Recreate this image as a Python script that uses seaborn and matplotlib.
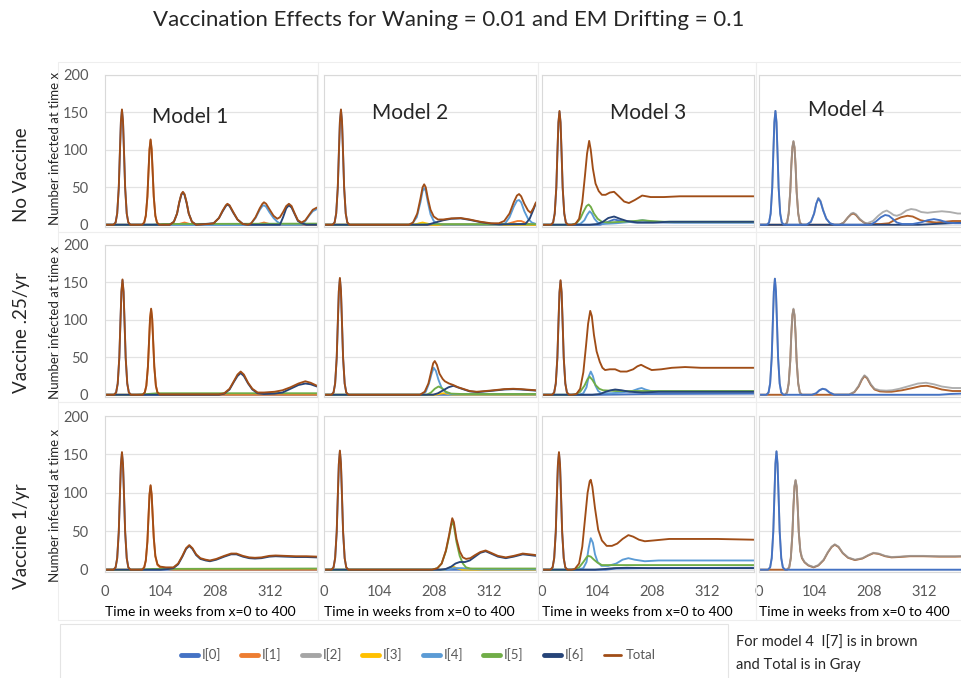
import pandas as pd
import matplotlib
matplotlib.use("Agg")
import matplotlib.pyplot as plt
from matplotlib.lines import Line2D
from matplotlib.patches import Rectangle
import seaborn as sns

# ---------------------------------------------------------------------
# DATA  (week, number infected)
# ---------------------------------------------------------------------
# --- No vaccine ---
m1_nv_total = [(0, 0), (16, 0), (20, 3), (23, 15), (26, 50), (28, 95), (30, 138), (32, 154), (34, 138), (36, 95), (38, 50), (41, 15), (44, 3), (48, 0),
               (70, 0), (74, 3), (77, 12), (80, 38), (82, 70), (84, 101), (86, 114), (88, 101), (90, 70), (92, 38), (95, 12), (98, 3), (102, 0),
               (122, 0), (130, 4), (136, 15), (140, 30), (144, 41), (147, 44), (150, 41), (154, 30), (158, 15), (164, 4), (172, 0), (195, 1),
               (205, 2), (215, 9), (222, 19), (228, 26), (231, 28), (235, 26), (242, 17), (250, 7), (260, 1), (270, 0),
               (276, 2), (284, 10), (292, 22), (297, 28), (300, 30), (304, 28), (310, 21), (318, 12), (325, 8),
               (330, 10), (336, 17), (342, 25), (347, 28), (352, 25), (358, 15), (364, 6), (371, 3), (378, 6), (385, 13), (392, 20), (400, 23)]
m1_nv_i0 = [(0, 0), (16, 0), (20, 3), (23, 15), (26, 49), (28, 94), (30, 137), (32, 153), (34, 137), (36, 94), (38, 49), (41, 15), (44, 3), (48, 0), (400, 0)]
m1_nv_i1 = [(0, 0), (70, 0), (74, 3), (77, 12), (80, 37), (82, 69), (84, 100), (86, 113), (88, 100), (90, 69), (92, 37), (95, 12), (98, 3), (102, 0),
            (140, 1), (150, 3), (160, 1), (290, 1), (300, 3), (310, 1), (400, 0)]
m1_nv_i4 = [(0, 0), (270, 0), (276, 2), (284, 9), (292, 20), (297, 25), (300, 26), (304, 24), (310, 17), (318, 9), (325, 4), (332, 1), (340, 0),
            (371, 0), (378, 5), (385, 12), (392, 18), (400, 21)]
m1_nv_i5 = [(0, 0), (90, 0), (110, 1), (400, 1.5)]
m1_nv_i6 = [(0, 0), (122, 0), (130, 4), (136, 15), (140, 29), (144, 40), (147, 43), (150, 40), (154, 29), (158, 15), (164, 4), (172, 0),
            (205, 2), (215, 9), (222, 18), (228, 25), (231, 27), (235, 25), (242, 16), (250, 7), (260, 1), (270, 0), (330, 0),
            (336, 10), (342, 22), (347, 26), (352, 23), (358, 14), (364, 5), (371, 2), (380, 0), (400, 0)]

m2_nv_total = [(0, 0), (16, 0), (20, 3), (23, 15), (26, 50), (28, 95), (30, 138), (32, 154), (34, 138), (36, 95), (38, 50), (41, 15), (44, 3), (48, 0),
               (160, 0), (168, 3), (176, 15), (182, 35), (186, 50), (189, 54), (192, 50), (196, 35), (201, 20), (207, 11), (215, 7), (225, 7),
               (240, 8.5), (258, 9), (275, 7), (295, 4), (315, 2), (330, 2), (340, 5), (350, 15), (358, 30), (364, 39), (368, 41), (372, 38),
               (378, 28), (385, 19), (390, 16), (395, 22), (400, 30)]
m2_nv_i0 = [(0, 0), (16, 0), (20, 3), (23, 15), (26, 49), (28, 94), (30, 137), (32, 153), (34, 137), (36, 94), (38, 49), (41, 15), (44, 3), (48, 0), (400, 0)]
m2_nv_i1 = [(0, 0), (340, 0), (355, 3), (365, 5), (372, 5), (382, 2), (392, 0), (400, 0)]
m2_nv_i3 = [(0, 0), (170, 0), (180, 2), (186, 3), (192, 2), (205, 0), (400, 0)]
m2_nv_i4 = [(0, 0), (165, 0), (175, 10), (182, 30), (186, 45), (189, 49), (192, 45), (196, 30), (201, 14), (207, 5), (215, 1), (225, 0),
            (335, 0), (342, 2), (350, 10), (358, 24), (364, 32), (368, 33), (372, 30), (378, 18), (385, 8), (392, 3), (400, 1)]
m2_nv_i5 = [(0, 0), (160, 0), (200, 0.8), (400, 0.8)]
m2_nv_i6 = [(0, 0), (195, 0), (210, 3), (225, 6), (240, 8), (258, 8.5), (275, 6.5), (295, 3.5), (315, 1.5), (330, 0.5), (380, 1),
            (388, 8), (395, 20), (400, 29)]

m3_nv_total = [(0, 0), (17, 0), (21, 3), (24, 15), (27, 50), (29, 95), (31, 137), (33, 152), (35, 137), (37, 95), (39, 50), (42, 15), (45, 3), (49, 0),
               (56, 0), (63, 1), (70, 8), (76, 30), (81, 65), (85, 95), (89, 112), (92, 100), (96, 75), (101, 55), (107, 45), (113, 40),
               (120, 40), (128, 43), (136, 44), (145, 38), (155, 31), (164, 29), (175, 33), (189, 39), (205, 37), (230, 37), (260, 38),
               (300, 38), (350, 38), (400, 38)]
m3_nv_i0 = [(0, 0), (17, 0), (21, 3), (24, 15), (27, 49), (29, 94), (31, 136), (33, 151), (35, 136), (37, 94), (39, 49), (42, 15), (45, 3), (49, 0),
            (110, 0), (125, 4), (136, 7), (150, 5), (175, 3), (400, 3)]
m3_nv_i4 = [(0, 0), (62, 0), (72, 1), (80, 6), (85, 13), (90, 18), (94, 15), (99, 8), (105, 3), (115, 1), (140, 2), (170, 4), (189, 6),
            (210, 4), (250, 3), (400, 3)]
m3_nv_i5 = [(0, 0), (56, 0), (65, 2), (72, 8), (78, 17), (84, 25), (88, 27), (92, 24), (98, 15), (105, 8), (113, 4), (125, 3), (150, 4),
            (175, 5), (190, 6), (205, 5), (230, 4), (300, 4), (400, 4)]
m3_nv_i6 = [(0, 0), (90, 0), (105, 1), (115, 4), (125, 9), (136, 11), (147, 8), (160, 5), (180, 3), (210, 3), (240, 4), (270, 4), (400, 4)]

m4_nv_total = [(0, 0), (15, 0), (19, 3), (22, 15), (25, 50), (27, 95), (29, 137), (31, 152), (33, 137), (35, 95), (37, 50), (40, 15), (43, 3), (47, 0),
               (49, 0), (53, 3), (56, 15), (59, 45), (61, 80), (63, 104), (65, 112), (67, 104), (69, 80), (71, 45), (74, 15), (77, 3), (81, 0),
               (90, 0), (98, 4), (104, 15), (108, 28), (112, 36), (116, 32), (121, 20), (127, 8), (134, 2), (142, 0),
               (152, 0), (160, 3), (168, 10), (174, 15), (178, 16), (183, 14), (190, 8), (198, 3), (204, 2), (215, 5), (225, 12),
               (234, 17), (241, 19), (248, 16), (254, 13), (260, 12), (268, 14), (278, 19), (287, 21), (296, 20), (306, 17), (318, 16),
               (330, 17), (345, 18), (360, 17), (375, 15), (390, 15), (400, 15)]
m4_nv_i0 = [(0, 0), (15, 0), (19, 3), (22, 15), (25, 50), (27, 95), (29, 137), (31, 152), (33, 137), (35, 95), (37, 50), (40, 15), (43, 3), (47, 0),
            (90, 0), (98, 4), (104, 15), (108, 28), (112, 35), (116, 31), (121, 19), (127, 8), (134, 2), (142, 0), (210, 0), (220, 4),
            (230, 10), (238, 13), (245, 12), (252, 8), (260, 3), (270, 1), (290, 1), (305, 3), (318, 6), (330, 7.5), (342, 6), (355, 3),
            (370, 2), (400, 2)]
m4_nv_i6 = [(0, 0), (300, 0), (330, 1), (360, 2), (400, 3)]
m4_nv_i7 = [(0, 0), (49, 0), (53, 3), (56, 15), (59, 44), (61, 79), (63, 103), (65, 111), (67, 103), (69, 79), (71, 44), (74, 15), (77, 3), (81, 0),
            (152, 0), (160, 3), (168, 10), (174, 14), (178, 15), (183, 13), (190, 7), (198, 3), (204, 1), (230, 1), (245, 2), (255, 6),
            (268, 10), (280, 12), (290, 11), (305, 6), (320, 4), (335, 3), (350, 4), (365, 5), (385, 5), (400, 5)]

# --- Vaccine .25/yr ---
m1_v25_total = [(0, 0), (17, 0), (21, 3), (24, 15), (27, 50), (29, 95), (31, 138), (33, 154), (35, 138), (37, 95), (39, 50), (42, 15), (45, 3), (49, 0),
                (71, 0), (75, 3), (78, 12), (81, 38), (83, 70), (85, 102), (87, 115), (89, 102), (91, 70), (93, 38), (96, 12), (99, 3), (103, 0.5),
                (215, 0.5), (225, 2), (235, 8), (243, 18), (250, 27), (256, 31), (262, 27), (270, 16), (278, 8), (288, 3), (300, 3), (320, 4),
                (335, 6), (350, 10), (365, 15), (378, 18), (388, 16), (400, 12)]
m1_v25_i0 = [(0, 0), (17, 0), (21, 3), (24, 15), (27, 49), (29, 94), (31, 137), (33, 153), (35, 137), (37, 94), (39, 49), (42, 15), (45, 3), (49, 0), (400, 0)]
m1_v25_i1 = [(0, 0), (71, 0), (75, 3), (78, 12), (81, 37), (83, 69), (85, 101), (87, 114), (89, 101), (91, 69), (93, 37), (96, 12), (99, 3), (103, 0), (400, 0)]
m1_v25_i5 = [(0, 0), (60, 0), (80, 1), (100, 2), (400, 2)]
m1_v25_i6 = [(0, 0), (215, 0), (225, 1.5), (235, 7), (243, 17), (250, 25), (256, 29), (262, 25), (270, 15), (278, 7), (288, 2), (300, 1),
             (320, 1.5), (335, 3), (350, 8), (365, 13), (378, 15), (388, 14), (400, 11)]

m2_v25_total = [(0, 0), (14, 0), (18, 3), (21, 15), (24, 50), (26, 95), (28, 139), (30, 156), (32, 139), (34, 95), (36, 50), (39, 15), (42, 3), (46, 0),
                (181, 0), (190, 4), (197, 15), (202, 30), (206, 42), (209, 45), (213, 40), (218, 28), (224, 21), (228, 18), (236, 15),
                (244, 13), (253, 10), (262, 8), (275, 5), (288, 4), (305, 5), (320, 6), (340, 7.5), (357, 8), (372, 7.5), (390, 6.5), (400, 6)]
m2_v25_i0 = [(0, 0), (14, 0), (18, 3), (21, 15), (24, 49), (26, 94), (28, 138), (30, 155), (32, 138), (34, 94), (36, 49), (39, 15), (42, 3), (46, 0), (400, 0)]
m2_v25_i3 = [(0, 0), (210, 0), (220, 1.5), (226, 2), (234, 1), (242, 0), (400, 0)]
m2_v25_i4 = [(0, 0), (184, 0), (192, 4), (198, 15), (203, 28), (207, 36), (211, 32), (216, 20), (222, 9), (230, 3), (240, 0.5), (400, 0.5)]
m2_v25_i5 = [(0, 0), (194, 0), (202, 3), (209, 8), (216, 11), (222, 9), (230, 4), (240, 1.5), (260, 1), (400, 1)]
m2_v25_i6 = [(0, 0), (206, 0), (215, 2), (225, 6), (235, 10), (244, 12), (252, 10), (262, 7.5), (275, 4.5), (290, 3.5), (305, 4.5),
             (320, 5.5), (340, 7), (357, 7.5), (372, 7), (390, 6), (400, 5.5)]

m3_v25_total = [(0, 0), (19, 0), (23, 3), (26, 15), (29, 50), (31, 95), (33, 137), (35, 153), (37, 137), (39, 95), (41, 50), (44, 15), (47, 3), (51, 0),
                (56, 0), (65, 1), (72, 8), (78, 30), (83, 65), (87, 95), (91, 112), (94, 105), (98, 80), (103, 58), (109, 44), (114, 36),
                (119, 33), (128, 34), (138, 34), (148, 31), (160, 31), (172, 34), (180, 38), (187, 40), (195, 37), (207, 33), (225, 34),
                (245, 36), (270, 37), (300, 36), (350, 36), (400, 36)]
m3_v25_i0 = [(0, 0), (19, 0), (23, 3), (26, 15), (29, 49), (31, 94), (33, 136), (35, 152), (37, 136), (39, 94), (41, 49), (44, 15), (47, 3), (51, 0),
             (110, 0), (200, 1), (400, 1.5)]
m3_v25_i4 = [(0, 0), (70, 0), (78, 2), (84, 10), (88, 24), (92, 31), (96, 25), (101, 12), (106, 5), (112, 2), (130, 2), (150, 3), (170, 5),
             (182, 8), (188, 9), (195, 7), (210, 4), (250, 4), (400, 4)]
m3_v25_i5 = [(0, 0), (62, 0), (72, 4), (80, 12), (86, 21), (90, 24), (95, 20), (101, 13), (108, 8), (115, 6), (140, 5), (200, 5), (300, 5), (400, 5)]
m3_v25_i6 = [(0, 0), (95, 0), (110, 1), (120, 4), (130, 6), (138, 7), (150, 6), (165, 4), (190, 3), (220, 4), (260, 4), (400, 4)]

m4_v25_total = [(0, 0), (14, 0), (18, 3), (21, 15), (24, 50), (26, 95), (28, 138), (30, 155), (32, 138), (34, 95), (36, 50), (39, 15), (42, 3), (46, 0),
                (49, 0), (53, 3), (56, 15), (59, 46), (61, 82), (63, 107), (65, 115), (67, 107), (69, 82), (71, 46), (74, 15), (77, 3), (81, 0),
                (100, 0), (108, 2), (114, 6), (120, 8), (126, 7), (133, 3), (142, 0.5), (170, 0.5), (180, 4), (188, 12), (194, 21), (199, 26),
                (204, 23), (211, 14), (218, 8), (228, 6), (240, 5.5), (251, 6), (265, 8), (285, 12), (300, 15), (315, 16), (330, 14),
                (345, 11), (365, 9), (385, 9), (400, 9)]
m4_v25_i0 = [(0, 0), (14, 0), (18, 3), (21, 15), (24, 50), (26, 95), (28, 138), (30, 155), (32, 138), (34, 95), (36, 50), (39, 15), (42, 3), (46, 0),
             (100, 0), (108, 2), (114, 6), (120, 8), (126, 7), (133, 3), (142, 0), (340, 0), (360, 1), (400, 2)]
m4_v25_i7 = [(0, 0), (49, 0), (53, 3), (56, 15), (59, 45), (61, 81), (63, 106), (65, 114), (67, 106), (69, 81), (71, 45), (74, 15), (77, 3), (81, 0),
             (170, 0), (180, 3.5), (188, 11), (194, 20), (199, 25), (204, 22), (211, 13), (218, 7), (228, 4.5), (240, 4), (250, 4), (270, 6),
             (290, 9), (305, 11.5), (317, 12), (330, 10), (345, 7), (365, 5), (400, 5)]

# --- Vaccine 1/yr ---
m1_v1_total = [(0, 0), (16, 0), (20, 3), (23, 15), (26, 50), (28, 95), (30, 137), (32, 153), (34, 137), (36, 95), (38, 50), (41, 15), (44, 3), (48, 0),
               (70, 0), (74, 3), (77, 12), (80, 37), (82, 68), (84, 98), (86, 110), (88, 98), (90, 70), (92, 42), (95, 18), (99, 7), (104, 4),
               (115, 3), (129, 3), (138, 8), (146, 18), (153, 28), (159, 32), (165, 28), (172, 20), (180, 15), (190, 13), (198, 12),
               (210, 14), (225, 18), (238, 21), (248, 21), (260, 18), (272, 16), (283, 15.5), (295, 16), (310, 18), (322, 18.5),
               (340, 18), (360, 17.5), (380, 17.5), (400, 17)]
m1_v1_i0 = [(0, 0), (16, 0), (20, 3), (23, 15), (26, 49), (28, 94), (30, 136), (32, 152), (34, 136), (36, 94), (38, 49), (41, 15), (44, 3), (48, 0), (400, 0)]
m1_v1_i1 = [(0, 0), (70, 0), (74, 3), (77, 12), (80, 36), (82, 67), (84, 97), (86, 109), (88, 97), (90, 69), (92, 41), (95, 17), (99, 6), (104, 3),
            (115, 1), (129, 0), (400, 0)]
m1_v1_i5 = [(0, 0), (60, 0), (90, 1), (400, 1.5)]
m1_v1_i6 = [(0, 0), (105, 0), (120, 1), (129, 2), (138, 7), (146, 17), (153, 27), (159, 31), (165, 27), (172, 19), (180, 14), (190, 12),
            (198, 11), (210, 13), (225, 17), (238, 20), (248, 20), (260, 17), (272, 15), (283, 14.5), (295, 15), (310, 17), (322, 17.5),
            (340, 17), (360, 16.5), (380, 16.5), (400, 16)]

m2_v1_total = [(0, 0), (14, 0), (18, 3), (21, 15), (24, 50), (26, 95), (28, 138), (30, 155), (32, 138), (34, 95), (36, 50), (39, 15), (42, 3), (46, 0),
               (204, 0), (214, 2), (222, 8), (230, 25), (236, 45), (240, 60), (242, 67), (245, 62), (250, 40), (256, 24), (262, 16), (268, 14),
               (276, 15), (285, 19), (295, 23), (305, 25), (315, 22), (328, 18), (343, 16), (358, 18), (375, 21), (388, 20), (400, 19)]
m2_v1_i0 = [(0, 0), (14, 0), (18, 3), (21, 15), (24, 49), (26, 94), (28, 137), (30, 154), (32, 137), (34, 94), (36, 49), (39, 15), (42, 3), (46, 0), (400, 0)]
m2_v1_i3 = [(0, 0), (228, 0), (238, 3), (244, 4), (250, 2), (260, 0), (400, 0)]
m2_v1_i4 = [(0, 0), (230, 0), (245, 2), (260, 2), (280, 1), (300, 0.5), (400, 0.5)]
m2_v1_i5 = [(0, 0), (204, 0), (214, 2), (222, 8), (230, 24), (236, 43), (240, 58), (242, 62), (245, 57), (250, 36), (256, 18), (262, 8),
            (268, 3), (276, 1.5), (400, 1.5)]
m2_v1_i6 = [(0, 0), (220, 0), (230, 1), (240, 4), (248, 8), (256, 10), (266, 10), (275, 12), (285, 17), (295, 22), (305, 24), (315, 21),
            (328, 17), (343, 15), (358, 17), (375, 20), (388, 19), (400, 18)]

m3_v1_total = [(0, 0), (16, 0), (20, 3), (23, 15), (26, 50), (28, 95), (30, 137), (32, 153), (34, 137), (36, 95), (38, 50), (41, 15), (44, 3), (48, 0),
               (56, 0), (62, 1), (70, 8), (76, 30), (81, 65), (86, 100), (90, 115), (92, 117), (95, 108), (100, 80), (106, 52), (113, 38),
               (122, 31), (132, 31), (142, 34), (152, 40), (163, 45), (172, 43), (183, 39), (194, 37), (210, 38), (240, 40), (280, 40),
               (330, 40), (400, 39)]
m3_v1_i0 = [(0, 0), (16, 0), (20, 3), (23, 15), (26, 49), (28, 94), (30, 136), (32, 152), (34, 136), (36, 94), (38, 49), (41, 15), (44, 3), (48, 0),
            (120, 0), (140, 1.5), (200, 2), (400, 2.5)]
m3_v1_i4 = [(0, 0), (68, 0), (78, 2), (84, 10), (88, 28), (92, 41), (96, 35), (100, 20), (105, 10), (112, 5), (125, 5), (140, 8), (152, 13),
            (163, 15), (175, 13), (194, 11), (220, 12), (260, 12), (400, 12)]
m3_v1_i5 = [(0, 0), (60, 0), (70, 3), (78, 10), (84, 16), (87, 18), (92, 17), (98, 13), (105, 9), (113, 6), (130, 6), (200, 6), (400, 6)]
m3_v1_i6 = [(0, 0), (100, 0), (120, 1), (135, 2), (160, 2.5), (200, 2), (400, 2)]

m4_v1_total = [(0, 0), (17, 0), (21, 3), (24, 15), (27, 50), (29, 95), (31, 138), (33, 154), (35, 138), (37, 95), (39, 50), (42, 15), (45, 3), (49, 0),
               (53, 0), (57, 3), (60, 15), (63, 47), (65, 83), (67, 109), (69, 117), (71, 109), (73, 83), (75, 50), (78, 25), (81, 16), (86, 10),
               (93, 6), (103, 3.5), (112, 6), (122, 13), (130, 23), (137, 30), (143, 33), (150, 30), (158, 22), (168, 16), (181, 13),
               (195, 15), (206, 19), (216, 22), (226, 21), (238, 18), (250, 16.5), (265, 17), (285, 18), (310, 18), (340, 17.5),
               (370, 17.5), (400, 18)]
m4_v1_i0 = [(0, 0), (17, 0), (21, 3), (24, 15), (27, 50), (29, 95), (31, 138), (33, 154), (35, 138), (37, 95), (39, 50), (42, 15), (45, 3), (49, 0),
            (400, 0)]
m4_v1_i7 = [(0, 0), (53, 0), (57, 3), (60, 15), (63, 46), (65, 82), (67, 108), (69, 116), (71, 108), (73, 82), (75, 49), (78, 24), (81, 15),
            (86, 9.5), (93, 5.5), (103, 3), (112, 5.5), (122, 12.5), (130, 22.5), (137, 29.5), (143, 32.5), (150, 29.5), (158, 21.5),
            (168, 15.5), (181, 12.5), (195, 14.5), (206, 18.5), (216, 21.5), (226, 20.5), (238, 17.5), (250, 16), (265, 16.5),
            (285, 17.5), (310, 17.5), (340, 17), (370, 17), (400, 17.5)]

model_titles = ["Model 1", "Model 2", "Model 3", "Model 4"]
row_titles = ["No Vaccine", "Vaccine .25/yr", "Vaccine 1/yr"]
series_names = ["I[0]", "I[1]", "I[2]", "I[3]", "I[4]", "I[5]", "I[6]", "Total"]
week_ticks = [0, 104, 208, 312]
count_ticks = [0, 50, 100, 150, 200]

# ---------------------------------------------------------------------
# STYLE
# ---------------------------------------------------------------------
COLORS = {"I[0]": "#4472C4", "I[1]": "#ED7D31", "I[2]": "#A5A5A5", "I[3]": "#FFC000",
          "I[4]": "#5B9BD5", "I[5]": "#70AD47", "I[6]": "#264478", "Total": "#A04D17"}
COLORS_M4 = {"Total": "#999999", "I[7]": "#B0602A", "I[0]": "#4472C4", "I[6]": "#264478"}

PANELS = [
    [{"I[0]": m1_nv_i0, "I[1]": m1_nv_i1, "I[4]": m1_nv_i4, "I[5]": m1_nv_i5, "I[6]": m1_nv_i6, "Total": m1_nv_total},
     {"I[0]": m2_nv_i0, "I[1]": m2_nv_i1, "I[3]": m2_nv_i3, "I[4]": m2_nv_i4, "I[5]": m2_nv_i5, "I[6]": m2_nv_i6, "Total": m2_nv_total},
     {"I[0]": m3_nv_i0, "I[4]": m3_nv_i4, "I[5]": m3_nv_i5, "I[6]": m3_nv_i6, "Total": m3_nv_total},
     {"I[7]": m4_nv_i7, "Total": m4_nv_total, "I[6]": m4_nv_i6, "I[0]": m4_nv_i0}],
    [{"I[0]": m1_v25_i0, "I[1]": m1_v25_i1, "I[5]": m1_v25_i5, "I[6]": m1_v25_i6, "Total": m1_v25_total},
     {"I[0]": m2_v25_i0, "I[3]": m2_v25_i3, "I[4]": m2_v25_i4, "I[5]": m2_v25_i5, "I[6]": m2_v25_i6, "Total": m2_v25_total},
     {"I[0]": m3_v25_i0, "I[4]": m3_v25_i4, "I[5]": m3_v25_i5, "I[6]": m3_v25_i6, "Total": m3_v25_total},
     {"I[7]": m4_v25_i7, "Total": m4_v25_total, "I[0]": m4_v25_i0}],
    [{"I[0]": m1_v1_i0, "I[1]": m1_v1_i1, "I[5]": m1_v1_i5, "I[6]": m1_v1_i6, "Total": m1_v1_total},
     {"I[0]": m2_v1_i0, "I[3]": m2_v1_i3, "I[4]": m2_v1_i4, "I[5]": m2_v1_i5, "I[6]": m2_v1_i6, "Total": m2_v1_total},
     {"I[0]": m3_v1_i0, "I[4]": m3_v1_i4, "I[5]": m3_v1_i5, "I[6]": m3_v1_i6, "Total": m3_v1_total},
     {"I[7]": m4_v1_i7, "Total": m4_v1_total, "I[0]": m4_v1_i0}],
]

W, H = 961, 678
COL_LEFT = [105, 324, 542, 759]
ROW_TOP = [75, 245, 416]
ROW_H = [152, 152, 156]
PANEL_W = 212

sns.set_style("white")
plt.rcParams["font.family"] = ["Lato", "DejaVu Sans"]

fig = plt.figure(figsize=(W / 100, H / 100), dpi=100)


def px_rect(left, top, width, height):
    return [left / W, 1 - (top + height) / H, width / W, height / H]


# faint chart-area frames like the pasted Excel charts
for x0, x1 in [(58, 318), (318, 538), (538, 756), (756, 975)]:
    for y0, y1 in [(62, 232), (232, 402), (402, 620)]:
        fig.add_artist(Rectangle((x0 / W, 1 - y1 / H), (x1 - x0) / W, (y1 - y0) / H,
                                 transform=fig.transFigure, fill=False, ec="#eeeeee", lw=0.8))
fig.add_artist(Rectangle((60 / W, 1 - 690 / H), 668 / W, 66 / H,
                         transform=fig.transFigure, fill=False, ec="#e4e4e4", lw=0.8))

for r in range(3):
    for c in range(4):
        ax = fig.add_axes(px_rect(COL_LEFT[c], ROW_TOP[r], PANEL_W, ROW_H[r]))
        series = PANELS[r][c]
        rows = [{"week": w, "value": v, "series": name}
                for name, pts in series.items() for w, v in pts]
        df = pd.DataFrame(rows)
        order = list(series.keys())
        pal = COLORS_M4 if c == 3 else COLORS
        sns.lineplot(data=df, x="week", y="value", hue="series", hue_order=order,
                     palette={k: pal[k] for k in order}, estimator=None, sort=False,
                     legend=False, linewidth=1.35, ax=ax)
        if c == 3:
            # gray total sits over the brown I[7] in the original, a bit see-through
            ax.lines[1].set_alpha(0.8)
        ax.set_xlim(0, 400)
        ax.set_ylim(-3, 200)
        ax.set_xticks(week_ticks)
        ax.set_yticks(count_ticks)
        ax.grid(axis="y", color="#e3e3e3", lw=0.9)
        ax.set_axisbelow(True)
        for sp in ax.spines.values():
            sp.set_color("#d9d9d9")
            sp.set_linewidth(0.8)
        ax.tick_params(length=0, labelsize=10.5, labelcolor="#595959")
        ax.tick_params(axis="y", pad=12)
        ax.tick_params(axis="x", pad=9)
        ax.set_ylabel("")
        ax.set_xlabel("")
        if c > 0:
            ax.set_yticklabels([])
        if r < 2:
            ax.set_xticklabels([])
        else:
            ax.set_xlabel("Time in weeks from x=0 to 400", fontsize=10, color="black")
            ax.xaxis.set_label_coords(0.45, -0.215)

# model titles
for c, (x, y) in enumerate([(190, 117), (410, 113), (648, 113), (846, 110)]):
    fig.text(x / W, 1 - y / H, model_titles[c], ha="center", va="center", fontsize=15)

# row titles and y labels
for r, (yc, yl) in enumerate([(175, 148), (333, 322), (536, 505)]):
    fig.text(22 / W, 1 - yc / H, row_titles[r], rotation=90, ha="center", va="center", fontsize=13.5)
    fig.text(55 / W, 1 - yl / H, "Number infected at time x", rotation=90, ha="center",
             va="center", fontsize=9.5)

fig.text(449 / W, 1 - 20 / H, "Vaccination Effects for Waning = 0.01 and EM Drifting = 0.1",
         ha="center", va="center", fontsize=16)

# legend
handles = [Line2D([], [], color=COLORS[n], lw=2 if n == "Total" else 3.5) for n in series_names]
fig.legend(handles, series_names, loc="center", bbox_to_anchor=(418 / W, 1 - 655 / H), ncol=8,
           frameon=False, fontsize=9.5, labelcolor="#595959", handlelength=1.3, handletextpad=0.3,
           columnspacing=1.5)

fig.text(736 / W, 1 - 643 / H, "For model 4  I[7] is in brown", ha="left", va="center", fontsize=10.5)
fig.text(736 / W, 1 - 665 / H, "and Total is in Gray", ha="left", va="center", fontsize=10.5)

fig.savefig("out.png", dpi=100)
